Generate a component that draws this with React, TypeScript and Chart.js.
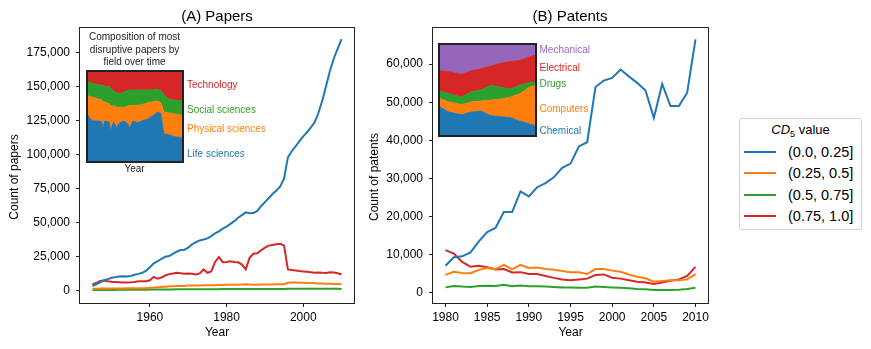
import React, { useEffect, useRef } from "react";
import { Chart, registerables } from "chart.js";
Chart.register(...registerables);

const FONT = "'Liberation Sans', Arial, Helvetica, sans-serif";
Chart.defaults.font.family = FONT;
Chart.defaults.color = "#000";

// ---------- Panel A: papers ----------
const paperYears = [
  1945, 1946, 1947, 1948, 1949, 1950, 1951, 1952, 1953, 1954, 1955, 1956, 1957, 1958, 1959,
  1960, 1961, 1962, 1963, 1964, 1965, 1966, 1967, 1968, 1969,
  1970, 1971, 1972, 1973, 1974, 1975, 1976, 1977, 1978, 1979,
  1980, 1981, 1982, 1983, 1984, 1985, 1986, 1987, 1988, 1989,
  1990, 1991, 1992, 1993, 1994, 1995, 1996, 1997, 1998, 1999,
  2000, 2001, 2002, 2003, 2004, 2005, 2006, 2007, 2008, 2009, 2010,
];
const papersCd0 = [
  3300, 4500, 6000, 7500, 8300, 9300, 9800, 10300, 10500, 10200, 10700, 11500, 12200, 13000, 14500,
  17000, 20000, 21500, 23200, 24800, 25300, 27000, 28500, 29800, 30000,
  31500, 34000, 35500, 36800, 37500, 38300, 40000, 42000, 43500, 45500,
  47000, 49000, 51000, 53500, 55500, 57500, 56800, 57000, 58500, 62000,
  65000, 68000, 71000, 73500, 76500, 82500, 98000, 102500, 106000, 110000,
  113500, 116500, 120000, 124000, 131000, 140000, 151000, 162000, 171000, 178000, 185000,
];
const papersCd1 = [
  1300, 1300, 1400, 1400, 1400, 1500, 1500, 1500, 1500, 1600, 1600, 1600, 1600, 1700, 1700,
  1900, 2100, 2400, 2600, 2800, 3000, 3100, 3200, 3300, 3300,
  3600, 3600, 3700, 3700, 3800, 3800, 3900, 3900, 4000, 4000,
  4100, 4100, 4200, 4200, 4300, 4500, 4300, 4200, 4200, 4300,
  4300, 4400, 4400, 4500, 4500, 4600, 5700, 5800, 5800, 5700,
  5600, 5500, 5400, 5300, 5200, 5100, 5000, 4900, 4800, 4700, 4600,
];
const papersCd2 = [
  300, 300, 350, 350, 400, 400, 400, 450, 450, 450, 500, 500, 500, 550, 550,
  600, 650, 650, 700, 700, 750, 750, 800, 800, 800,
  850, 850, 850, 900, 900, 900, 950, 950, 950, 1000,
  1000, 1000, 1000, 1050, 1050, 1050, 1000, 1000, 1000, 1000,
  1000, 1050, 1050, 1050, 1100, 1100, 1300, 1300, 1300, 1300,
  1300, 1300, 1300, 1250, 1250, 1250, 1250, 1200, 1200, 1200, 1150,
];
const papersCd3 = [
  4600, 5500, 7000, 7300, 6800, 6400, 6200, 6000, 5800, 5800, 6000, 6300, 6700, 6800, 6800,
  7500, 10000, 8700, 9500, 11000, 12000, 12500, 13000, 12700, 12300,
  12500, 12300, 11700, 12500, 15500, 13000, 14000, 21000, 24500, 20800,
  21000, 21500, 21000, 20700, 19000, 15500, 24000, 27000, 27300, 29500,
  31500, 33000, 33500, 34000, 34300, 33000, 15500, 15000, 14700, 14300,
  14000, 13700, 13400, 13000, 13200, 13000, 12900, 13400, 13200, 12600, 11800,
];
const paperXTicks = [1960, 1980, 2000];
const paperYTicks = [0, 25000, 50000, 75000, 100000, 125000, 150000, 175000];

// inset A: composition of most disruptive papers by field (shares)
const paperFieldYears = [1945, 1947, 1949, 1953, 1955, 1956, 1957, 1960, 1961, 1963, 1965, 1967, 1970, 1972, 1974, 1976, 1979, 1982, 1986, 1989, 1993, 1995, 1997, 2000, 2004, 2010];
const paperLife = [0.53, 0.48, 0.45, 0.45, 0.44, 0.36, 0.45, 0.44, 0.34, 0.44, 0.38, 0.43, 0.45, 0.43, 0.37, 0.45, 0.43, 0.45, 0.47, 0.50, 0.55, 0.53, 0.31, 0.30, 0.28, 0.26];
const paperPhysical = [0.20, 0.24, 0.26, 0.24, 0.24, 0.30, 0.21, 0.20, 0.27, 0.18, 0.22, 0.17, 0.15, 0.18, 0.25, 0.17, 0.19, 0.18, 0.18, 0.16, 0.12, 0.12, 0.24, 0.24, 0.25, 0.25];
const paperSocial = [0.15, 0.15, 0.15, 0.16, 0.16, 0.18, 0.17, 0.19, 0.19, 0.16, 0.16, 0.15, 0.17, 0.17, 0.17, 0.17, 0.17, 0.16, 0.14, 0.13, 0.13, 0.13, 0.19, 0.15, 0.15, 0.16];
const paperTechnology = [0.12, 0.13, 0.14, 0.15, 0.16, 0.16, 0.17, 0.17, 0.20, 0.22, 0.24, 0.25, 0.23, 0.22, 0.21, 0.21, 0.21, 0.21, 0.21, 0.21, 0.20, 0.22, 0.26, 0.31, 0.32, 0.33];

// ---------- Panel B: patents ----------
const patentYears = [
  1980, 1981, 1982, 1983, 1984, 1985, 1986, 1987, 1988, 1989,
  1990, 1991, 1992, 1993, 1994, 1995, 1996, 1997, 1998, 1999,
  2000, 2001, 2002, 2003, 2004, 2005, 2006, 2007, 2008, 2009, 2010,
];
const patentsCd0 = [
  7100, 9300, 9550, 10600, 13500, 15900, 17000, 21200, 21200, 26600,
  25300, 27700, 28800, 30300, 32800, 33900, 38400, 39500, 54000, 55700,
  56400, 58600, 56800, 55100, 53100, 45900, 54800, 49000, 49000, 52500, 66500,
];
const patentsCd1 = [
  4700, 5500, 5200, 5100, 6000, 6500, 6200, 7300, 6100, 7300,
  6500, 6600, 6200, 6000, 5700, 5350, 5350, 4900, 6200, 6200,
  5800, 5500, 4800, 4200, 3800, 2900, 3100, 3300, 3300, 3500, 4900,
];
const patentsCd2 = [
  1400, 1750, 1600, 1500, 1750, 1800, 1750, 2100, 1700, 1900,
  1700, 1700, 1600, 1500, 1400, 1400, 1300, 1300, 1600, 1500,
  1400, 1300, 1150, 1000, 900, 700, 700, 700, 750, 1000, 1300,
];
const patentsCd3 = [
  11200, 10300, 8100, 6800, 7100, 6700, 6100, 6200, 5300, 5400,
  4900, 4900, 4400, 3900, 3500, 3300, 3500, 3700, 4650, 4800,
  3950, 3700, 3300, 2900, 2700, 2300, 2700, 3150, 3500, 4400, 6800,
];
const patentXTicks = [1980, 1985, 1990, 1995, 2000, 2005, 2010];
const patentYTicks = [0, 10000, 20000, 30000, 40000, 50000, 60000];

// inset B: composition by technology field (shares)
const patentFieldYears = [1980, 1983, 1987, 1990, 1993, 1996, 1999, 2002, 2005, 2008, 2010];
const patentChemical = [0.32, 0.26, 0.23, 0.26, 0.27, 0.22, 0.21, 0.20, 0.16, 0.13, 0.11];
const patentComputers = [0.09, 0.11, 0.11, 0.11, 0.11, 0.17, 0.19, 0.22, 0.30, 0.40, 0.44];
const patentDrugs = [0.08, 0.09, 0.08, 0.11, 0.12, 0.16, 0.13, 0.09, 0.09, 0.05, 0.04];
const patentElectrical = [0.22, 0.24, 0.25, 0.23, 0.23, 0.21, 0.26, 0.30, 0.27, 0.28, 0.29];
const patentMechanical = [0.29, 0.30, 0.33, 0.29, 0.27, 0.24, 0.21, 0.19, 0.18, 0.14, 0.12];

const seriesLabels = ["(0.0, 0.25]", "(0.25, 0.5]", "(0.5, 0.75]", "(0.75, 1.0]"];
const seriesColors = ["#1f77b4", "#ff7f0e", "#2ca02c", "#d62728"];
const purple = "#9467bd";

const framePlugin = (lw: number) => ({
  id: "frame",
  afterDraw(chart: any) {
    const { ctx, chartArea: a } = chart;
    ctx.save();
    ctx.strokeStyle = "#222";
    ctx.lineWidth = lw;
    const o = lw % 2 === 1 ? 0.5 : 0;
    ctx.strokeRect(a.left - o, a.top - o, a.right - a.left + 2 * o, a.bottom - a.top + 2 * o);
    ctx.restore();
  },
});

function lineConfig(opts: any) {
  const { years, series, xMin, xMax, yMin, yMax, xTicks, yTicks, yWidth, padding } = opts;
  return {
    type: "line",
    data: {
      datasets: series.map((vals: number[], i: number) => ({
        label: seriesLabels[i],
        data: years.map((yr: number, j: number) => ({ x: yr, y: vals[j] })),
        borderColor: seriesColors[i],
        backgroundColor: seriesColors[i],
        borderWidth: 2,
        pointRadius: 0,
        tension: 0,
        fill: false,
      })),
    },
    options: {
      animation: false,
      responsive: false,
      maintainAspectRatio: false,
      layout: { padding },
      plugins: { legend: { display: false }, tooltip: { enabled: false }, title: { display: false } },
      scales: {
        x: {
          type: "linear",
          min: xMin,
          max: xMax,
          afterBuildTicks: (axis: any) => {
            axis.ticks = xTicks.map((value: number) => ({ value }));
          },
          afterFit: (s: any) => {
            s.height = 41;
          },
          ticks: { callback: (v: any) => String(v), font: { size: 12 }, color: "#000", padding: 3, maxRotation: 0, autoSkip: false },
          grid: { display: true, drawOnChartArea: false, drawTicks: true, tickLength: 4, color: "#222", lineWidth: 1 },
          border: { display: false },
          title: { display: true, text: "Year", font: { size: 12 }, color: "#000", padding: { top: 4, bottom: 4 } },
        },
        y: {
          type: "linear",
          min: yMin,
          max: yMax,
          afterBuildTicks: (axis: any) => {
            axis.ticks = yTicks.map((value: number) => ({ value }));
          },
          afterFit: (s: any) => {
            s.width = yWidth;
          },
          ticks: { callback: (v: any) => Number(v).toLocaleString("en-US"), font: { size: 12 }, color: "#000", padding: 6, autoSkip: false },
          grid: { display: true, drawOnChartArea: false, drawTicks: true, tickLength: 4, color: "#222", lineWidth: 1 },
          border: { display: false },
          title: { display: false },
        },
      },
    },
    plugins: [framePlugin(1)],
  };
}

function areaConfig(years: number[], shares: number[][], colors: string[]) {
  return {
    type: "line",
    data: {
      datasets: shares.map((vals, i) => ({
        data: years.map((yr, j) => ({ x: yr, y: vals[j] })),
        borderColor: colors[i],
        backgroundColor: colors[i],
        borderWidth: 1,
        pointRadius: 0,
        tension: 0,
        fill: i === 0 ? "origin" : "-1",
      })),
    },
    options: {
      animation: false,
      responsive: false,
      maintainAspectRatio: false,
      layout: { padding: 1 },
      plugins: { legend: { display: false }, tooltip: { enabled: false } },
      scales: {
        x: { type: "linear", min: years[0], max: years[years.length - 1], display: false },
        y: { type: "linear", stacked: true, min: 0, max: 1, display: false },
      },
    },
    plugins: [framePlugin(2)],
  };
}

function ChartCanvas({ left, top, width, height, make }: any) {
  const ref = useRef<HTMLCanvasElement>(null);
  useEffect(() => {
    const chart = new Chart(ref.current as HTMLCanvasElement, make() as any);
    return () => chart.destroy();
  }, []);
  return (
    <canvas
      ref={ref}
      width={width}
      height={height}
      style={{ position: "absolute", left, top, width, height, display: "block" }}
    />
  );
}

function Label({ x, y, color, size = 10, children, align = "left" }: any) {
  const style: any = {
    position: "absolute",
    top: y - size * 0.6,
    lineHeight: `${size * 1.2}px`,
    fontSize: size,
    color,
    whiteSpace: "nowrap",
    fontFamily: FONT,
  };
  if (align === "left") style.left = x;
  else {
    style.left = x - 100;
    style.width = 200;
    style.textAlign = "center";
  }
  return <div style={style}>{children}</div>;
}

function YTitle({ x, y, text }: any) {
  return (
    <div
      style={{
        position: "absolute",
        left: x - 100,
        top: y - 8,
        width: 200,
        height: 16,
        lineHeight: "16px",
        textAlign: "center",
        fontSize: 12,
        fontFamily: FONT,
        color: "#000",
        transform: "rotate(-90deg)",
      }}
    >
      {text}
    </div>
  );
}

export default function App() {
  const legendRows = [32.7, 54, 75.5, 97];
  return (
    <div style={{ position: "absolute", left: 0, top: 0, width: 871, height: 349, background: "#fff", overflow: "hidden", fontFamily: FONT }}>
      <ChartCanvas
        left={0}
        top={0}
        width={362}
        height={349}
        make={() =>
          lineConfig({
            years: paperYears,
            series: [papersCd0, papersCd1, papersCd2, papersCd3],
            xMin: 1941.75,
            xMax: 2013.25,
            yMin: -9250,
            yMax: 193250,
            xTicks: paperXTicks,
            yTicks: paperYTicks,
            yWidth: 80,
            padding: { left: 0, right: 8, top: 28, bottom: 5 },
          })
        }
      />
      <ChartCanvas
        left={362}
        top={0}
        width={358}
        height={349}
        make={() =>
          lineConfig({
            years: patentYears,
            series: [patentsCd0, patentsCd1, patentsCd2, patentsCd3],
            xMin: 1978.5,
            xMax: 2011.5,
            yMin: -2700,
            yMax: 69500,
            xTicks: patentXTicks,
            yTicks: patentYTicks,
            yWidth: 71,
            padding: { left: 0, right: 12, top: 28, bottom: 5 },
          })
        }
      />
      {/* panel titles */}
      <Label x={217} y={15.5} size={15} color="#000" align="center">(A) Papers</Label>
      <Label x={570} y={15.5} size={15} color="#000" align="center">(B) Patents</Label>
      <YTitle x={13.8} y={177} text="Count of papers" />
      <YTitle x={374} y={177} text="Count of patents" />

      {/* inset A */}
      <ChartCanvas
        left={86}
        top={70}
        width={98}
        height={93}
        make={() =>
          areaConfig(paperFieldYears, [paperLife, paperPhysical, paperSocial, paperTechnology], [
            seriesColors[0],
            seriesColors[1],
            seriesColors[2],
            seriesColors[3],
          ])
        }
      />
      <Label x={134.5} y={37.3} color="#222" align="center">Composition of most</Label>
      <Label x={134.5} y={49.8} color="#222" align="center">disruptive papers by</Label>
      <Label x={134.5} y={62.2} color="#222" align="center">field over time</Label>
      <Label x={134.5} y={169.3} color="#222" align="center">Year</Label>
      <Label x={187} y={85.3} color={seriesColors[3]}>Technology</Label>
      <Label x={187} y={110.3} color={seriesColors[2]}>Social sciences</Label>
      <Label x={187} y={129.3} color={seriesColors[1]}>Physical sciences</Label>
      <Label x={187} y={153.7} color={seriesColors[0]}>Life sciences</Label>

      {/* inset B */}
      <ChartCanvas
        left={438}
        top={43}
        width={99}
        height={94}
        make={() =>
          areaConfig(patentFieldYears, [patentChemical, patentComputers, patentDrugs, patentElectrical, patentMechanical], [
            seriesColors[0],
            seriesColors[1],
            seriesColors[2],
            seriesColors[3],
            purple,
          ])
        }
      />
      <Label x={539.5} y={50} color={purple}>Mechanical</Label>
      <Label x={539.5} y={67.5} color={seriesColors[3]}>Electrical</Label>
      <Label x={539.5} y={84.3} color={seriesColors[2]}>Drugs</Label>
      <Label x={539.5} y={108.5} color={seriesColors[1]}>Computers</Label>
      <Label x={539.5} y={130.5} color={seriesColors[0]}>Chemical</Label>

      {/* legend */}
      <div
        style={{
          position: "absolute",
          left: 739,
          top: 118,
          width: 121,
          height: 110,
          border: "1px solid #d3d3d3",
          borderRadius: 3,
          background: "#fff",
        }}
      >
        <div style={{ position: "absolute", left: 0, width: 121, top: 2, lineHeight: "17px", textAlign: "center", fontSize: 13, color: "#000" }}>
          <i>CD</i>
          <span style={{ fontSize: 9, position: "relative", top: 3 }}>5</span> value
        </div>
        {seriesLabels.map((lab, i) => (
          <React.Fragment key={lab}>
            <div style={{ position: "absolute", left: 4, width: 32, top: legendRows[i] - 1, height: 2, background: seriesColors[i] }} />
            <div style={{ position: "absolute", left: 48, top: legendRows[i] - 9, lineHeight: "18px", fontSize: 14.5, color: "#000", whiteSpace: "nowrap" }}>
              {lab}
            </div>
          </React.Fragment>
        ))}
      </div>
    </div>
  );
}
